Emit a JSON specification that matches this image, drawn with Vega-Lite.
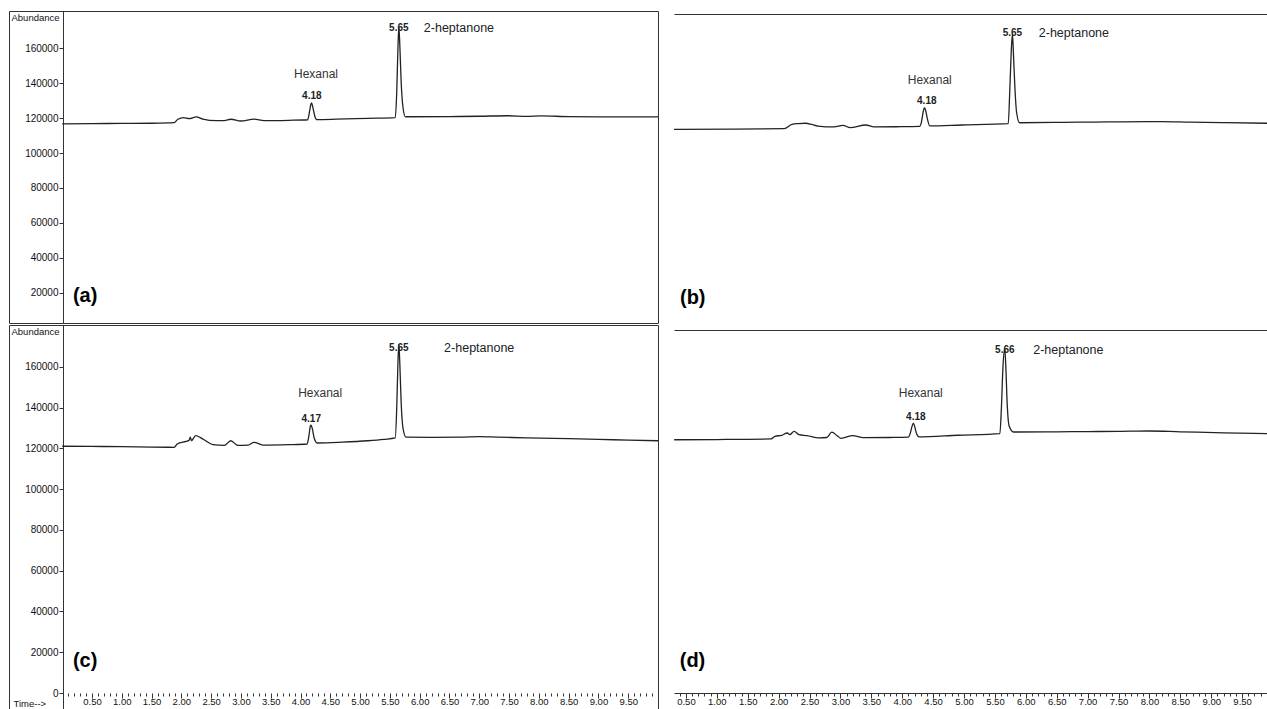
{
  "$schema": "https://vega.github.io/schema/vega-lite/v6.json",
  "background": "white",
  "padding": {"left": 8, "top": 10, "right": 0, "bottom": 0},
  "config": {
    "font": "Liberation Sans",
    "view": {"stroke": "#333", "strokeWidth": 1},
    "axis": {"grid": false, "labelFont": "Liberation Sans", "labelColor": "#111", "tickColor": "#333", "domainColor": "#333", "titleFont": "Liberation Sans", "titleColor": "#111", "titleFontWeight": "normal"}
  },
  "datasets": {
    "trace_a": [
      {"t": 0, "v": 116700}, {"t": 0.5, "v": 116800}, {"t": 1.0, "v": 116900}, {"t": 1.5, "v": 117000}, {"t": 1.88, "v": 117300},
      {"t": 1.94, "v": 119300}, {"t": 2.04, "v": 120200}, {"t": 2.13, "v": 119600}, {"t": 2.25, "v": 120600}, {"t": 2.36, "v": 119400},
      {"t": 2.47, "v": 118700}, {"t": 2.72, "v": 118500}, {"t": 2.83, "v": 119300}, {"t": 3.0, "v": 118300}, {"t": 3.22, "v": 119400},
      {"t": 3.39, "v": 118500}, {"t": 3.8, "v": 118700}, {"t": 4.12, "v": 119000}, {"t": 4.15, "v": 123500}, {"t": 4.175, "v": 128000},
      {"t": 4.185, "v": 128700}, {"t": 4.21, "v": 125500}, {"t": 4.24, "v": 121000}, {"t": 4.27, "v": 119100}, {"t": 4.6, "v": 119300},
      {"t": 5.13, "v": 119800}, {"t": 5.59, "v": 120200}, {"t": 5.615, "v": 135000}, {"t": 5.635, "v": 160000}, {"t": 5.65, "v": 172000},
      {"t": 5.665, "v": 163000}, {"t": 5.69, "v": 140000}, {"t": 5.72, "v": 126000}, {"t": 5.76, "v": 120700}, {"t": 6.5, "v": 120800},
      {"t": 7.0, "v": 121000}, {"t": 7.48, "v": 121300}, {"t": 7.8, "v": 120900}, {"t": 8.04, "v": 121200}, {"t": 8.5, "v": 120800},
      {"t": 9.0, "v": 120700}, {"t": 9.5, "v": 120600}, {"t": 10.0, "v": 120600}
    ],
    "trace_b": [
      {"t": 0.0, "v": 113500}, {"t": 1.0, "v": 113700}, {"t": 1.84, "v": 113900}, {"t": 1.97, "v": 116400}, {"t": 2.08, "v": 116800},
      {"t": 2.2, "v": 117000}, {"t": 2.3, "v": 116300}, {"t": 2.4, "v": 115400}, {"t": 2.67, "v": 114900}, {"t": 2.82, "v": 115800},
      {"t": 2.94, "v": 114500}, {"t": 3.2, "v": 116000}, {"t": 3.34, "v": 114900}, {"t": 3.7, "v": 115000}, {"t": 4.1, "v": 115200},
      {"t": 4.13, "v": 117500}, {"t": 4.16, "v": 123500}, {"t": 4.18, "v": 125900}, {"t": 4.2, "v": 124500}, {"t": 4.23, "v": 119500},
      {"t": 4.27, "v": 115500}, {"t": 4.8, "v": 116000}, {"t": 5.58, "v": 116800}, {"t": 5.605, "v": 135000}, {"t": 5.63, "v": 158000},
      {"t": 5.65, "v": 168000}, {"t": 5.665, "v": 158000}, {"t": 5.69, "v": 138000}, {"t": 5.72, "v": 123000}, {"t": 5.77, "v": 117300},
      {"t": 6.5, "v": 117500}, {"t": 7.0, "v": 117700}, {"t": 7.5, "v": 117800}, {"t": 8.15, "v": 117900}, {"t": 8.6, "v": 117600},
      {"t": 9.2, "v": 117300}, {"t": 9.93, "v": 117000}
    ],
    "trace_c": [
      {"t": 0, "v": 121100}, {"t": 0.5, "v": 121000}, {"t": 1.0, "v": 120900}, {"t": 1.5, "v": 120700}, {"t": 1.88, "v": 120600},
      {"t": 1.93, "v": 122200}, {"t": 2.08, "v": 123500}, {"t": 2.13, "v": 124000}, {"t": 2.15, "v": 125600}, {"t": 2.17, "v": 123900},
      {"t": 2.24, "v": 126300}, {"t": 2.38, "v": 124300}, {"t": 2.53, "v": 121900}, {"t": 2.72, "v": 121500}, {"t": 2.83, "v": 123800},
      {"t": 2.95, "v": 121500}, {"t": 3.12, "v": 121700}, {"t": 3.22, "v": 123000}, {"t": 3.37, "v": 121700}, {"t": 3.8, "v": 121900},
      {"t": 4.11, "v": 122200}, {"t": 4.14, "v": 126000}, {"t": 4.165, "v": 131000}, {"t": 4.175, "v": 131400}, {"t": 4.2, "v": 129500},
      {"t": 4.23, "v": 125000}, {"t": 4.28, "v": 122700}, {"t": 4.7, "v": 123100}, {"t": 5.13, "v": 123800}, {"t": 5.4, "v": 124500},
      {"t": 5.59, "v": 125200}, {"t": 5.615, "v": 140000}, {"t": 5.635, "v": 162000}, {"t": 5.65, "v": 171000}, {"t": 5.665, "v": 163000},
      {"t": 5.69, "v": 142000}, {"t": 5.72, "v": 130000}, {"t": 5.77, "v": 125600}, {"t": 6.2, "v": 125500}, {"t": 6.7, "v": 125600},
      {"t": 7.0, "v": 125800}, {"t": 7.3, "v": 125600}, {"t": 7.8, "v": 125200}, {"t": 8.5, "v": 124800}, {"t": 9.0, "v": 124500},
      {"t": 9.5, "v": 124100}, {"t": 10.0, "v": 123800}
    ],
    "trace_d": [
      {"t": 0.31, "v": 124300}, {"t": 1.0, "v": 124400}, {"t": 1.88, "v": 124700}, {"t": 1.94, "v": 126000}, {"t": 2.05, "v": 126500},
      {"t": 2.14, "v": 127600}, {"t": 2.18, "v": 126800}, {"t": 2.25, "v": 128400}, {"t": 2.33, "v": 126800}, {"t": 2.46, "v": 126300},
      {"t": 2.65, "v": 125200}, {"t": 2.78, "v": 125400}, {"t": 2.86, "v": 128000}, {"t": 2.95, "v": 126200}, {"t": 3.01, "v": 125000},
      {"t": 3.2, "v": 126300}, {"t": 3.37, "v": 125300}, {"t": 3.8, "v": 125400}, {"t": 4.1, "v": 125600}, {"t": 4.13, "v": 127500},
      {"t": 4.16, "v": 131000}, {"t": 4.18, "v": 132500}, {"t": 4.2, "v": 131000}, {"t": 4.23, "v": 127500}, {"t": 4.27, "v": 125700},
      {"t": 4.9, "v": 126500}, {"t": 5.58, "v": 127300}, {"t": 5.605, "v": 140000}, {"t": 5.63, "v": 160000}, {"t": 5.66, "v": 169000},
      {"t": 5.675, "v": 161000}, {"t": 5.7, "v": 141000}, {"t": 5.73, "v": 131000}, {"t": 5.8, "v": 128100}, {"t": 6.5, "v": 128200},
      {"t": 7.0, "v": 128300}, {"t": 7.5, "v": 128400}, {"t": 8.0, "v": 128600}, {"t": 8.5, "v": 128200}, {"t": 9.2, "v": 127700},
      {"t": 9.935, "v": 127300}
    ],
    "ann": [
      {"panel": "a", "kind": "name", "t": 4.26, "v": 145100, "label": "Hexanal"},
      {"panel": "a", "kind": "rt", "t": 4.19, "v": 132600, "label": "4.18"},
      {"panel": "a", "kind": "rt", "t": 5.65, "v": 171400, "label": "5.65"},
      {"panel": "a", "kind": "cmp", "t": 6.07, "v": 171400, "label": "2-heptanone"},
      {"panel": "a", "kind": "tag", "t": 0.18, "v": 18300, "label": "(a)"},
      {"panel": "b", "kind": "name", "t": 4.27, "v": 141700, "label": "Hexanal"},
      {"panel": "b", "kind": "rt", "t": 4.22, "v": 129700, "label": "4.18"},
      {"panel": "b", "kind": "rt", "t": 5.65, "v": 168600, "label": "5.65"},
      {"panel": "b", "kind": "cmp", "t": 6.09, "v": 168600, "label": "2-heptanone"},
      {"panel": "b", "kind": "tag", "t": 0.1, "v": 17100, "label": "(b)"},
      {"panel": "c", "kind": "name", "t": 4.33, "v": 147200, "label": "Hexanal"},
      {"panel": "c", "kind": "rt", "t": 4.18, "v": 134500, "label": "4.17"},
      {"panel": "c", "kind": "rt", "t": 5.65, "v": 169300, "label": "5.65"},
      {"panel": "c", "kind": "cmp", "t": 6.41, "v": 169300, "label": "2-heptanone"},
      {"panel": "c", "kind": "tag", "t": 0.18, "v": 15700, "label": "(c)"},
      {"panel": "d", "kind": "name", "t": 4.3, "v": 147200, "label": "Hexanal"},
      {"panel": "d", "kind": "rt", "t": 4.22, "v": 135500, "label": "4.18"},
      {"panel": "d", "kind": "rt", "t": 5.66, "v": 168300, "label": "5.66"},
      {"panel": "d", "kind": "cmp", "t": 6.12, "v": 168300, "label": "2-heptanone"},
      {"panel": "d", "kind": "tag", "t": 0.4, "v": 15700, "label": "(d)"}
    ]
  },
  "vconcat": [
    {
      "hconcat": [
        {
          "width": 649, "height": 312,
          "encoding": {
            "x": {"field": "t", "type": "quantitative", "scale": {"domain": [-0.893, 10.0], "nice": false, "zero": false}, "axis": null},
            "y": {"field": "v", "type": "quantitative", "scale": {"domain": [2857, 181143], "nice": false, "zero": false},
              "axis": {"orient": "left", "offset": -54, "values": [20000, 40000, 60000, 80000, 100000, 120000, 140000, 160000], "format": "d", "tickSize": 4, "labelFontSize": 10, "labelPadding": 1,
                "title": "Abundance", "titleAngle": 0, "titleAlign": "left", "titleBaseline": "middle", "titleX": -52, "titleY": 6, "titleFontSize": 9.5}}
          },
          "layer": [
            {"data": {"name": "trace_a"}, "mark": {"type": "line", "color": "#222", "strokeWidth": 1.3, "interpolate": "monotone", "clip": true}},
            {"data": {"name": "ann"}, "transform": [{"filter": "datum.panel == 'a' && datum.kind == 'name'"}], "mark": {"type": "text", "align": "center", "baseline": "middle", "fontSize": 12, "color": "#333"}, "encoding": {"text": {"field": "label"}}},
            {"data": {"name": "ann"}, "transform": [{"filter": "datum.panel == 'a' && datum.kind == 'rt'"}], "mark": {"type": "text", "align": "center", "baseline": "middle", "fontSize": 10, "fontWeight": "bold", "color": "#222"}, "encoding": {"text": {"field": "label"}}},
            {"data": {"name": "ann"}, "transform": [{"filter": "datum.panel == 'a' && datum.kind == 'cmp'"}], "mark": {"type": "text", "align": "left", "baseline": "middle", "fontSize": 12.5, "color": "#222"}, "encoding": {"text": {"field": "label"}}},
            {"data": {"name": "ann"}, "transform": [{"filter": "datum.panel == 'a' && datum.kind == 'tag'"}], "mark": {"type": "text", "align": "left", "baseline": "middle", "fontSize": 20, "fontWeight": "bold", "color": "#000"}, "encoding": {"text": {"field": "label"}}}
          ]
        },
        {
          "width": 595, "height": 312,
          "view": {"stroke": null},
          "encoding": {
            "x": {"field": "t", "type": "quantitative", "scale": {"domain": [0, 9.933], "nice": false, "zero": false},
              "axis": {"orient": "top", "offset": -3, "labels": false, "ticks": false, "domain": true, "title": null}},
            "y": {"field": "v", "type": "quantitative", "scale": {"domain": [2857, 181143], "nice": false, "zero": false}, "axis": null}
          },
          "layer": [
            {"data": {"name": "trace_b"}, "mark": {"type": "line", "color": "#222", "strokeWidth": 1.3, "interpolate": "monotone", "clip": true}},
            {"data": {"name": "ann"}, "transform": [{"filter": "datum.panel == 'b' && datum.kind == 'name'"}], "mark": {"type": "text", "align": "center", "baseline": "middle", "fontSize": 12, "color": "#333"}, "encoding": {"text": {"field": "label"}}},
            {"data": {"name": "ann"}, "transform": [{"filter": "datum.panel == 'b' && datum.kind == 'rt'"}], "mark": {"type": "text", "align": "center", "baseline": "middle", "fontSize": 10, "fontWeight": "bold", "color": "#222"}, "encoding": {"text": {"field": "label"}}},
            {"data": {"name": "ann"}, "transform": [{"filter": "datum.panel == 'b' && datum.kind == 'cmp'"}], "mark": {"type": "text", "align": "left", "baseline": "middle", "fontSize": 12.5, "color": "#222"}, "encoding": {"text": {"field": "label"}}},
            {"data": {"name": "ann"}, "transform": [{"filter": "datum.panel == 'b' && datum.kind == 'tag'"}], "mark": {"type": "text", "align": "left", "baseline": "middle", "fontSize": 20, "fontWeight": "bold", "color": "#000"}, "encoding": {"text": {"field": "label"}}}
          ]
        }
      ],
      "spacing": 15
    },
    {
      "hconcat": [
        {
          "width": 649, "height": 387,
          "encoding": {
            "x": {"field": "t", "type": "quantitative", "scale": {"domain": [-0.893, 10.0], "nice": false, "zero": false},
              "axis": {"orient": "bottom", "offset": -19, "domain": false,
                "values": [0.1,0.2,0.3,0.4,0.5,0.6,0.7,0.8,0.9,1,1.1,1.2,1.3,1.4,1.5,1.6,1.7,1.8,1.9,2,2.1,2.2,2.3,2.4,2.5,2.6,2.7,2.8,2.9,3,3.1,3.2,3.3,3.4,3.5,3.6,3.7,3.8,3.9,4,4.1,4.2,4.3,4.4,4.5,4.6,4.7,4.8,4.9,5,5.1,5.2,5.3,5.4,5.5,5.6,5.7,5.8,5.9,6,6.1,6.2,6.3,6.4,6.5,6.6,6.7,6.8,6.9,7,7.1,7.2,7.3,7.4,7.5,7.6,7.7,7.8,7.9,8,8.1,8.2,8.3,8.4,8.5,8.6,8.7,8.8,8.9,9,9.1,9.2,9.3,9.4,9.5,9.6,9.7,9.8,9.9],
                "labelExpr": "abs(datum.value*2 - round(datum.value*2)) < 0.01 ? format(datum.value, '.2f') : ''",
                "tickSize": {"condition": {"test": "abs(datum.value*2 - round(datum.value*2)) < 0.01", "value": 5}, "value": 3},
                "labelFontSize": 9.5, "labelPadding": -2, "labelOverlap": false, "labelFlush": false, "labelBound": false,
                "title": "Time-->", "titleAngle": 0, "titleAlign": "left", "titleBaseline": "middle", "titleX": 4, "titleY": 10, "titleFontSize": 9.5}},
            "y": {"field": "v", "type": "quantitative", "scale": {"domain": [-9325, 180613], "nice": false, "zero": false},
              "axis": {"orient": "left", "offset": -54, "values": [0, 20000, 40000, 60000, 80000, 100000, 120000, 140000, 160000], "format": "d", "tickSize": 4, "labelFontSize": 10, "labelPadding": 1,
                "title": "Abundance", "titleAngle": 0, "titleAlign": "left", "titleBaseline": "middle", "titleX": -52, "titleY": 6, "titleFontSize": 9.5}}
          },
          "layer": [
            {"data": {"name": "trace_c"}, "mark": {"type": "line", "color": "#222", "strokeWidth": 1.3, "interpolate": "monotone", "clip": true}},
            {"data": {"values": [{}]}, "mark": {"type": "rule", "color": "#333", "strokeWidth": 1}, "encoding": {"x": {"datum": 0}, "x2": {"datum": 10.0}, "y": {"datum": 0}}},
            {"data": {"name": "ann"}, "transform": [{"filter": "datum.panel == 'c' && datum.kind == 'name'"}], "mark": {"type": "text", "align": "center", "baseline": "middle", "fontSize": 12, "color": "#333"}, "encoding": {"text": {"field": "label"}}},
            {"data": {"name": "ann"}, "transform": [{"filter": "datum.panel == 'c' && datum.kind == 'rt'"}], "mark": {"type": "text", "align": "center", "baseline": "middle", "fontSize": 10, "fontWeight": "bold", "color": "#222"}, "encoding": {"text": {"field": "label"}}},
            {"data": {"name": "ann"}, "transform": [{"filter": "datum.panel == 'c' && datum.kind == 'cmp'"}], "mark": {"type": "text", "align": "left", "baseline": "middle", "fontSize": 12.5, "color": "#222"}, "encoding": {"text": {"field": "label"}}},
            {"data": {"name": "ann"}, "transform": [{"filter": "datum.panel == 'c' && datum.kind == 'tag'"}], "mark": {"type": "text", "align": "left", "baseline": "middle", "fontSize": 20, "fontWeight": "bold", "color": "#000"}, "encoding": {"text": {"field": "label"}}}
          ]
        },
        {
          "width": 595, "height": 387,
          "view": {"stroke": null},
          "resolve": {"axis": {"x": "independent"}},
          "encoding": {
            "x": {"field": "t", "type": "quantitative", "scale": {"domain": [0.307, 9.935], "nice": false, "zero": false},
              "axis": {"orient": "bottom", "offset": -19, "domain": true,
                "values": [0.4,0.5,0.6,0.7,0.8,0.9,1,1.1,1.2,1.3,1.4,1.5,1.6,1.7,1.8,1.9,2,2.1,2.2,2.3,2.4,2.5,2.6,2.7,2.8,2.9,3,3.1,3.2,3.3,3.4,3.5,3.6,3.7,3.8,3.9,4,4.1,4.2,4.3,4.4,4.5,4.6,4.7,4.8,4.9,5,5.1,5.2,5.3,5.4,5.5,5.6,5.7,5.8,5.9,6,6.1,6.2,6.3,6.4,6.5,6.6,6.7,6.8,6.9,7,7.1,7.2,7.3,7.4,7.5,7.6,7.7,7.8,7.9,8,8.1,8.2,8.3,8.4,8.5,8.6,8.7,8.8,8.9,9,9.1,9.2,9.3,9.4,9.5,9.6,9.7,9.8,9.9],
                "labelExpr": "abs(datum.value*2 - round(datum.value*2)) < 0.01 ? format(datum.value, '.2f') : ''",
                "tickSize": {"condition": {"test": "abs(datum.value*2 - round(datum.value*2)) < 0.01", "value": 5}, "value": 3},
                "labelFontSize": 9.5, "labelPadding": -2, "labelOverlap": false, "labelFlush": false, "labelBound": false, "title": null}},
            "y": {"field": "v", "type": "quantitative", "scale": {"domain": [-9325, 180613], "nice": false, "zero": false}, "axis": null}
          },
          "layer": [
            {"data": {"name": "trace_d"}, "mark": {"type": "line", "color": "#222", "strokeWidth": 1.3, "interpolate": "monotone", "clip": true}},
            {"data": {"name": "ann"}, "transform": [{"filter": "datum.panel == 'd' && datum.kind == 'name'"}], "mark": {"type": "text", "align": "center", "baseline": "middle", "fontSize": 12, "color": "#333"},
              "encoding": {"text": {"field": "label"}, "x": {"field": "t", "type": "quantitative", "axis": {"orient": "top", "offset": -5, "labels": false, "ticks": false, "domain": true, "title": null}}}},
            {"data": {"name": "ann"}, "transform": [{"filter": "datum.panel == 'd' && datum.kind == 'rt'"}], "mark": {"type": "text", "align": "center", "baseline": "middle", "fontSize": 10, "fontWeight": "bold", "color": "#222"}, "encoding": {"text": {"field": "label"}, "x": {"field": "t", "type": "quantitative", "axis": null}}},
            {"data": {"name": "ann"}, "transform": [{"filter": "datum.panel == 'd' && datum.kind == 'cmp'"}], "mark": {"type": "text", "align": "left", "baseline": "middle", "fontSize": 12.5, "color": "#222"}, "encoding": {"text": {"field": "label"}, "x": {"field": "t", "type": "quantitative", "axis": null}}},
            {"data": {"name": "ann"}, "transform": [{"filter": "datum.panel == 'd' && datum.kind == 'tag'"}], "mark": {"type": "text", "align": "left", "baseline": "middle", "fontSize": 20, "fontWeight": "bold", "color": "#000"}, "encoding": {"text": {"field": "label"}, "x": {"field": "t", "type": "quantitative", "axis": null}}}
          ]
        }
      ],
      "spacing": 15
    }
  ],
  "spacing": 0
}
